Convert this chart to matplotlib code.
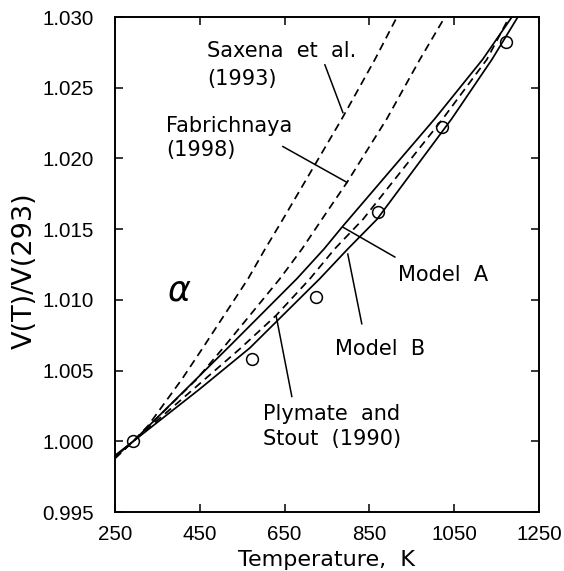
import matplotlib
matplotlib.use("Agg")
import matplotlib.pyplot as plt

# values
saxena_T = [250, 293, 328, 408, 457, 564, 604, 646, 785, 863, 915, 935]
saxena_V = [0.9988, 1.0000, 1.0011, 1.0044, 1.0066, 1.0115, 1.0136, 1.0157, 1.0228, 1.0270, 1.0300, 1.0311]

fab_T = [250, 293, 443, 505, 639, 691, 738, 797, 891, 969, 1028, 1045]
fab_V = [0.9988, 1.0000, 1.0044, 1.0066, 1.0115, 1.0136, 1.0157, 1.0183, 1.0228, 1.0270, 1.0300, 1.0309]

modelA_T = [250, 293, 450, 516, 679, 743, 787, 1004, 1117, 1186, 1200]
modelA_V = [0.9989, 1.0000, 1.00465, 1.0066, 1.0115, 1.0136, 1.0152, 1.0228, 1.0270, 1.0300, 1.0306]

plymate_T = [250, 293, 545, 630, 710, 768, 835, 1023, 1127, 1180, 1195]
plymate_V = [0.9989, 1.0000, 1.00655, 1.0089, 1.0115, 1.0136, 1.0157, 1.0228, 1.0270, 1.0300, 1.0307]

modelB_T = [250, 293, 450, 568, 733, 799, 868, 1044, 1139, 1200, 1210]
modelB_V = [0.9990, 1.0000, 1.0037, 1.0066, 1.0115, 1.0136, 1.0157, 1.0228, 1.0270, 1.0300, 1.0304]

obs_T = [293, 573, 724, 870, 1021, 1172]
obs_V = [1.0000, 1.0058, 1.0102, 1.0162, 1.0222, 1.0282]

xticks = [250, 450, 650, 850, 1050, 1250]
yticks = [0.995, 1.000, 1.005, 1.010, 1.015, 1.020, 1.025, 1.030]

fig = plt.figure(figsize=(5.64, 5.71), dpi=100)
ax = fig.add_axes([0.2039, 0.1033, 0.7518, 0.8669])

lw = 1.25
dash = (0, (4.6, 3.0))
ax.plot(saxena_T, saxena_V, color="black", lw=lw, ls=dash)
ax.plot(fab_T, fab_V, color="black", lw=lw, ls=dash)
ax.plot(plymate_T, plymate_V, color="black", lw=lw, ls=dash)
ax.plot(modelA_T, modelA_V, color="black", lw=lw)
ax.plot(modelB_T, modelB_V, color="black", lw=lw)
ax.plot(obs_T, obs_V, "o", ms=8.5, mfc="none", mec="black", mew=1.1)

ax.set_xlim(250, 1250)
ax.set_ylim(0.995, 1.030)
ax.set_xticks(xticks)
ax.set_yticks(yticks)
ax.set_xticklabels([str(t) for t in xticks])
ax.set_yticklabels(["%.3f" % v for v in yticks])
ax.tick_params(direction="in", length=6, width=1.1, top=True, right=True,
               labelsize=14.8)
ax.tick_params(axis="x", pad=9)
ax.tick_params(axis="y", pad=15)
for lab in ax.get_xticklabels() + ax.get_yticklabels():
    lab.set_family("Liberation Sans")
for sp in ax.spines.values():
    sp.set_linewidth(1.4)

# labels and leaders
tfont = dict(family="DejaVu Sans", fontsize=15, va="baseline", ha="left")
ax.text(467, 1.02715, "Saxena  et  al.", **tfont)
ax.text(467, 1.02521, "(1993)", **tfont)
ax.text(370, 1.0219, "Fabrichnaya", **tfont)
ax.text(370, 1.02014, "(1998)", **tfont)
ax.text(917, 1.01134, "Model  A", **tfont)
ax.text(769, 1.00613, "Model  B", **tfont)
ax.text(599, 1.00148, "Plymate  and", **tfont)
ax.text(599, 0.99972, "Stout  (1990)", **tfont)
ax.text(373, 1.00993, r"$\alpha$", fontsize=25, va="baseline", ha="left")

leaders = [((745, 1.02662), (787.5, 1.02324)),
           ((646, 1.02084), (797, 1.01831)),
           ((910, 1.01303), (787.5, 1.01514)),
           ((832, 1.00831), (799, 1.01324)),
           ((667, 1.00317), (630, 1.00887))]
for (x0, y0), (x1, y1) in leaders:
    ax.plot([x0, x1], [y0, y1], color="black", lw=1.1)

fig.text(326 / 564, 1 - 566 / 571, "Temperature,  K", family="DejaVu Sans",
         fontsize=16, ha="center", va="baseline")
fig.text(25 / 564, 1 - 271 / 571, "V(T)/V(293)", family="DejaVu Sans",
         fontsize=19.5, ha="center", va="center", rotation=90)

fig.savefig("out.png", dpi=100)
